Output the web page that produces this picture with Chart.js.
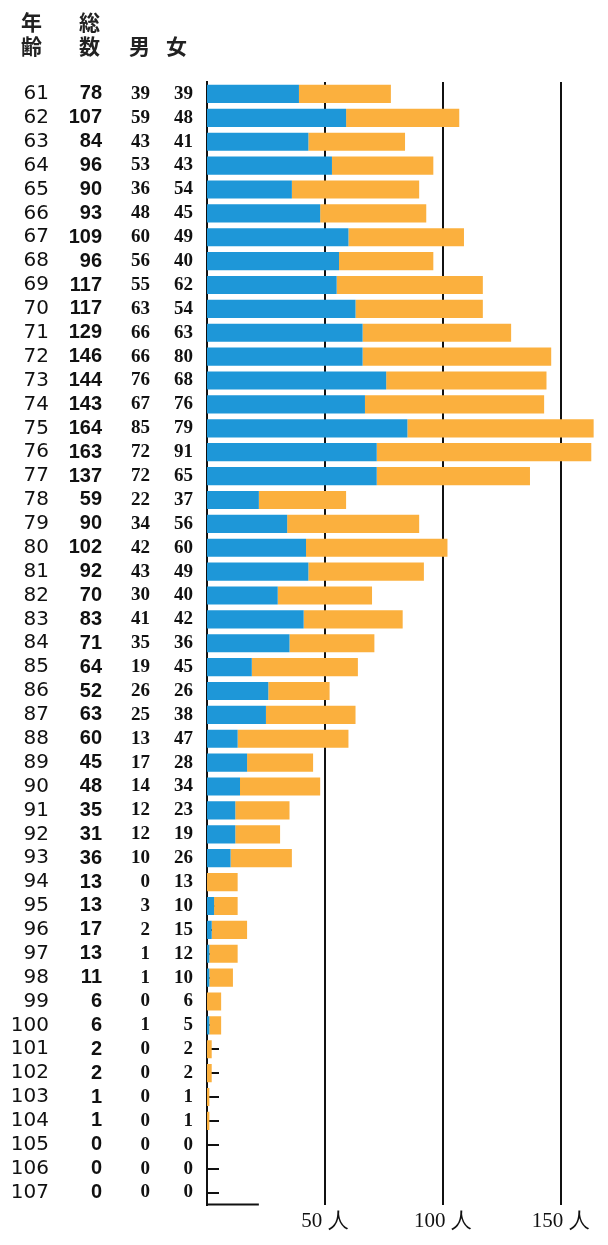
<!DOCTYPE html>
<html><head><meta charset="utf-8">
<script src="https://cdn.jsdelivr.net/npm/chart.js@4/dist/chart.umd.min.js"></script>
<style>html,body{margin:0;padding:0;background:#fff}#wrap{width:608px;height:1245px}</style>
</head><body><div id="wrap"><canvas id="c"></canvas></div>
<script>
const ages = [61,62,63,64,65,66,67,68,69,70,71,72,73,74,75,76,77,78,79,80,81,82,83,84,85,86,87,88,89,90,91,92,93,94,95,96,97,98,99,100,101,102,103,104,105,106,107];
const totals = [78,107,84,96,90,93,109,96,117,117,129,146,144,143,164,163,137,59,90,102,92,70,83,71,64,52,63,60,45,48,35,31,36,13,13,17,13,11,6,6,2,2,1,1,0,0,0];
const male = [39,59,43,53,36,48,60,56,55,63,66,66,76,67,85,72,72,22,34,42,43,30,41,35,19,26,25,13,17,14,12,12,10,0,3,2,1,1,0,1,0,0,0,0,0,0,0];
const female = [39,48,41,43,54,45,49,40,62,54,63,80,68,76,79,91,65,37,56,60,49,40,42,36,45,26,38,47,28,34,23,19,26,13,10,15,12,10,6,5,2,2,1,1,0,0,0];
const xTicks = [50,100,150];
const xMax = 165;
const axisStub = 22;
const headers = [
  {t:'年', x:42, y:22}, {t:'齢', x:42, y:46},
  {t:'総', x:100, y:22}, {t:'数', x:100, y:46},
  {t:'男', x:150, y:46}, {t:'女', x:187, y:46}
];

const labelsStr = ages.map(String);
function colAxis(labels, weight, width, font) {
  return {
    type:'category', position:'left', labels: labels.map(String), offset:true, weight:weight,
    grid:{display:false, drawTicks:false}, border:{display:false},
    ticks:{padding:3, color:'#111', font:font, autoSkip:false},
    afterFit:(s)=>{ s.width = width; }
  };
}

const extras = {
  id:'extras',
  afterDraw(chart){
    const ctx = chart.ctx, x = chart.scales.x, a = chart.chartArea;
    ctx.save();
    ctx.strokeStyle = '#111'; ctx.lineWidth = 2;
    ctx.beginPath();
    ctx.moveTo(x.getPixelForValue(0), a.bottom);
    ctx.lineTo(x.getPixelForValue(axisStub), a.bottom);
    ctx.stroke();
    ctx.fillStyle = '#222';
    ctx.font = 'bold 21px "Noto Sans CJK JP"';
    ctx.textAlign = 'right'; ctx.textBaseline = 'middle';
    headers.forEach(h => ctx.fillText(h.t, h.x, h.y));
    ctx.restore();
  }
};

new Chart(document.getElementById('c'), {
  type:'bar',
  data:{
    labels: labelsStr,
    datasets:[
      {label:'男', data: male, backgroundColor:'#1E97D8', borderWidth:0},
      {label:'女', data: female, backgroundColor:'#FBB03E', borderWidth:0}
    ]
  },
  options:{
    indexAxis:'y', responsive:true, maintainAspectRatio:false, animation:false,
    layout:{padding:{top:82, right:12, left:0, bottom:0}},
    plugins:{legend:{display:false}, tooltip:{enabled:false}},
    datasets:{bar:{categoryPercentage:1, barPercentage:0.76}},
    scales:{
      x:{
        type:'linear', stacked:true, min:0, max:xMax, position:'bottom',
        afterBuildTicks:(s)=>{ s.ticks = xTicks.map(v=>({value:v})); },
        grid:{color:'#111', lineWidth:2, drawTicks:false},
        border:{display:false},
        ticks:{padding:4, color:'#111', font:{family:'"Liberation Serif", serif', size:21},
          callback:(v)=> v + ' 人'},
        afterFit:(s)=>{ s.height = 40.5; }
      },
      y:{
        type:'category', stacked:true, position:'left', weight:0, offset:true,
        grid:{offset:false, drawOnChartArea:false, drawTicks:true, tickLength:-12, color:'#111', lineWidth:2},
        border:{display:true, color:'#111', width:2},
        ticks:{display:false},
        afterFit:(s)=>{ s.width = 11; }
      },
      yF: colAxis(female, 1, 43, {family:'"Liberation Serif", serif', size:19, weight:'bold'}),
      yM: colAxis(male, 2, 48, {family:'"Liberation Serif", serif', size:19, weight:'bold'}),
      yT: colAxis(totals, 3, 53, {family:'"Liberation Sans", sans-serif', size:20, weight:'bold'}),
      yA: colAxis(ages, 4, 52, {family:'"DejaVu Sans", sans-serif', size:20})
    }
  },
  plugins:[extras]
});
</script>
</body></html>
